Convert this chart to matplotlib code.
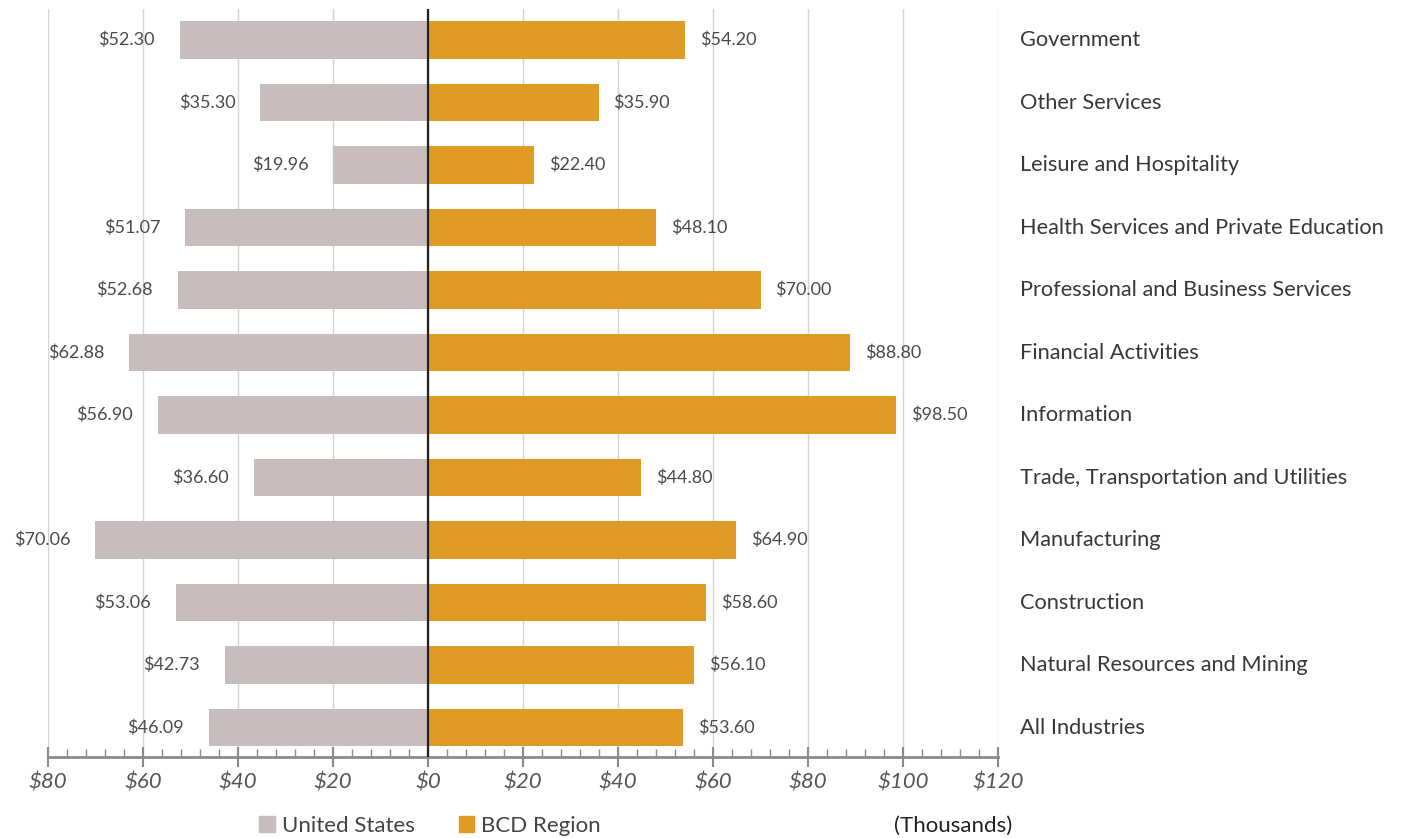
import matplotlib
matplotlib.use("Agg")
import matplotlib.pyplot as plt
from matplotlib.ticker import MultipleLocator, FuncFormatter
from matplotlib.patches import Patch

categories = ["All Industries", "Natural Resources and Mining", "Construction", "Manufacturing",
              "Trade, Transportation and Utilities", "Information", "Financial Activities",
              "Professional and Business Services", "Health Services and Private Education",
              "Leisure and Hospitality", "Other Services", "Government"]
us_values = [46.09, 42.73, 53.06, 70.06, 36.60, 56.90, 62.88, 52.68, 51.07, 19.96, 35.30, 52.30]
bcd_values = [53.60, 56.10, 58.60, 64.90, 44.80, 98.50, 88.80, 70.00, 48.10, 22.40, 35.90, 54.20]
series_names = ["United States", "BCD Region"]

US_COLOR = "#C8BCBC"
BCD_COLOR = "#E09B24"
FONT = "Lato"
W = "normal"

fig = plt.figure(figsize=(14.03, 8.38), dpi=100)
ax = fig.add_axes([48/1403, 1-757/838, 950/1403, 748/838])

y = list(range(len(categories)))
h = 0.6
ax.barh(y, [-v for v in us_values], height=h, color=US_COLOR, zorder=3)
ax.barh(y, bcd_values, height=h, color=BCD_COLOR, zorder=3)

for yi, u, b in zip(y, us_values, bcd_values):
    ax.annotate(f"${u:.2f}", xy=(-u, yi), xytext=(-25, 0), textcoords="offset pixels",
                ha="right", va="center", fontsize=13, color="#4a4a4a",
                family=FONT, fontweight=W)
    ax.annotate(f"${b:.2f}", xy=(b, yi), xytext=(15, 0), textcoords="offset pixels",
                ha="left", va="center", fontsize=13, color="#4a4a4a",
                family=FONT, fontweight=W)
    ax.annotate(categories[yi], xy=(1, yi), xycoords=("axes fraction", "data"),
                xytext=(22, 0), textcoords="offset pixels", ha="left", va="center",
                fontsize=15.7, color="#383838", family=FONT, fontweight=W,
                annotation_clip=False)

ax.axvline(0, color="#222222", lw=1.6, zorder=4)
ax.set_xlim(-80, 120)
ax.set_ylim(-0.47, 11.5)
ax.xaxis.set_major_locator(MultipleLocator(20))
ax.xaxis.set_minor_locator(MultipleLocator(4))
ax.xaxis.set_major_formatter(FuncFormatter(lambda v, p: f"${abs(v):.0f}"))
ax.grid(axis="x", which="major", color="#d4d4d4", lw=1, zorder=0)
ax.set_yticks([])
for s in ["top", "left", "right"]:
    ax.spines[s].set_visible(False)
ax.spines["bottom"].set_color("#8a8a8a")
ax.spines["bottom"].set_linewidth(2)
ax.tick_params(axis="x", which="major", direction="inout", length=14, width=1.5,
               color="#8a8a8a", pad=4)
ax.tick_params(axis="x", which="minor", direction="in", length=6, width=1,
               color="#8a8a8a")
for lbl in ax.get_xticklabels():
    lbl.set_fontstyle("italic")
    lbl.set_fontsize(16)
    lbl.set_color("#555555")
    lbl.set_family(FONT)
    lbl.set_fontweight(W)

handles = [Patch(color=US_COLOR), Patch(color=BCD_COLOR)]
fig.legend(handles, series_names, loc="center", bbox_to_anchor=(430/1403, 1-826/838),
           ncol=2, frameon=False, handlelength=0.7, handleheight=0.7, handletextpad=0.3,
           columnspacing=2.0, prop={"family": FONT, "size": 16, "weight": W},
           labelcolor="#444444")
fig.text(953/1403, 1-826/838, "(Thousands)", ha="center", va="center", fontsize=16,
         color="#222222", family=FONT)

fig.savefig("out.png", dpi=100)
